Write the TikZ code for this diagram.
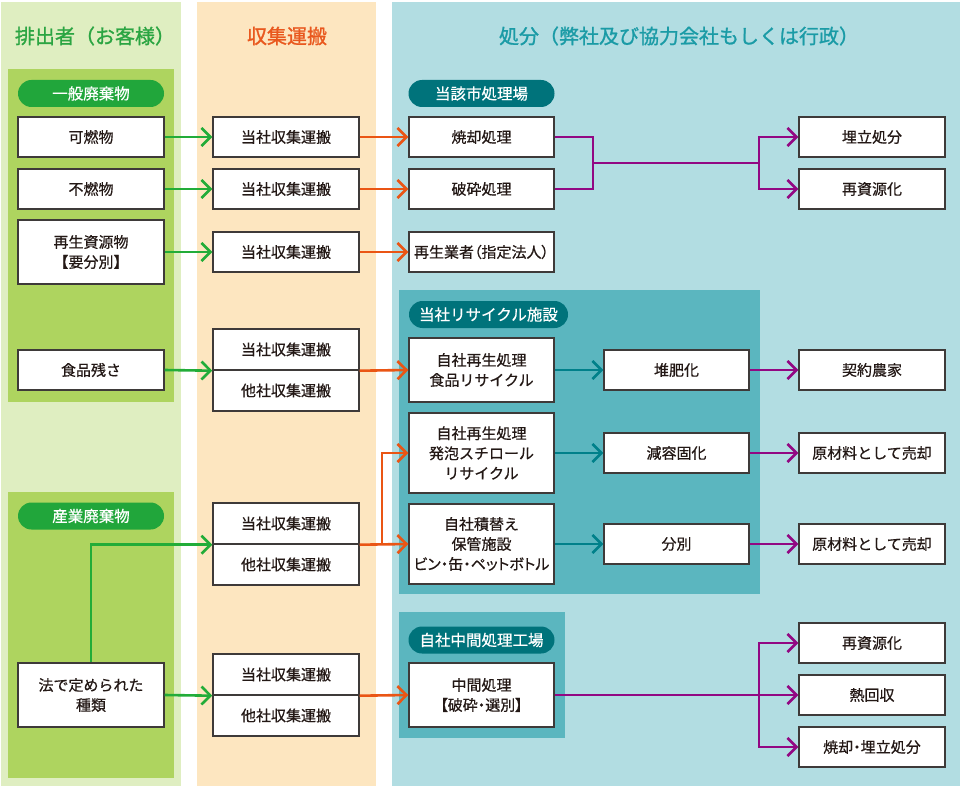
\documentclass[tikz,border=0pt]{standalone}
\usepackage{fontspec}
\setmainfont{Noto Sans CJK JP}[RawFeature={embolden=0.6}]
\newfontfamily\pfont{Noto Sans CJK JP}[RawFeature={+palt;embolden=0.6}]
\newfontfamily\tfont{Noto Sans CJK JP}[RawFeature={embolden=1.2}]
\usetikzlibrary{arrows.meta}
\definecolor{bggreen}{HTML}{DFEEC1}
\definecolor{bgorange}{HTML}{FDE6C0}
\definecolor{bgblue}{HTML}{B2DDE2}
\definecolor{ingreen}{HTML}{AED45F}
\definecolor{inteal}{HTML}{5BB6BF}
\definecolor{pillgreen}{HTML}{21A63B}
\definecolor{pillteal}{HTML}{00737B}
\definecolor{tgreen}{HTML}{2BA542}
\definecolor{torange}{HTML}{E9581E}
\definecolor{tteal}{HTML}{1A9BA6}
\definecolor{gline}{HTML}{22AC38}
\definecolor{oline}{HTML}{EA5514}
\definecolor{tline}{HTML}{00808A}
\definecolor{pline}{HTML}{920783}
\definecolor{boxline}{HTML}{3E3A39}
\definecolor{txt}{HTML}{231815}
\begin{document}
\begin{tikzpicture}[x=1pt,y=-1pt,
  box/.style={draw=boxline, line width=1.4pt, fill=white, minimum width=146pt,
    minimum height=40pt, inner sep=0pt, align=center, text=txt,
    font=\fontsize{15}{20}\selectfont},
  pill/.style={fill=#1, rounded corners=13.5pt, minimum width=146pt,
    minimum height=27pt, inner sep=0pt, text=white,
    font=\fontsize{15.5}{18}\selectfont},
  ttl/.style={text=#1, font=\tfont\fontsize{20}{24}\selectfont, inner sep=0pt},
  conn/.style={draw=#1, line width=2.6pt},
  arr/.style={conn=#1, -{Straight Barb[length=9pt,width=18pt]}}
]
\useasboundingbox (0,0) rectangle (960,786);
% column backgrounds
\fill[bggreen] (1,2) rectangle (181,786);
\fill[bgorange] (197,2) rectangle (376,786);
\fill[bgblue] (392,2) rectangle (960,786);
\fill[ingreen] (8,69) rectangle (174,402);
\fill[ingreen] (8,492) rectangle (174,778);
\fill[inteal] (399,290) rectangle (760,594);
\fill[inteal] (399,612) rectangle (565,738);
% titles
\node[ttl=tgreen] (t1) at (95,36) {排出者（お客様）};
\node[ttl=torange] (t2) at (287,36) {収集運搬};
\node[ttl=tteal] (t3) at (679,36) {処分（弊社及び協力会社もしくは行政）};
% pills
\node[pill=pillgreen] (p1) at (91,93.5) {一般廃棄物};
\node[pill=pillgreen] (p2) at (91,516) {産業廃棄物};
\node[pill=pillteal] (p3) at (481.5,93.5) {当該市処理場};
\node[pill=pillteal, minimum width=159pt] (p4) at (488.5,314.5) {当社リサイクル施設};
\node[pill=pillteal] (p5) at (481.5,640) {自社中間処理工場};
% column 1
\node[box] (a1) at (91,137) {可燃物};
\node[box] (a2) at (91,189) {不燃物};
\node[box, minimum height=64pt] (a3) at (91,252) {再生資源物\\【要分別】};
\node[box] (a4) at (91,370) {食品残さ};
\node[box, minimum height=64pt] (a5) at (91,695) {法で定められた\\種類};
% column 2
\node[box] (b1) at (286,137) {当社収集運搬};
\node[box] (b2) at (286,189) {当社収集運搬};
\node[box] (b3) at (286,252) {当社収集運搬};
\node[box, minimum height=41pt] (b4a) at (286,349.5) {当社収集運搬};
\node[box, minimum height=41pt] (b4b) at (286,390.5) {他社収集運搬};
\node[box, minimum height=41pt] (b5a) at (286,523.5) {当社収集運搬};
\node[box, minimum height=41pt] (b5b) at (286,564.5) {他社収集運搬};
\node[box, minimum height=41pt] (b6a) at (286,674.5) {当社収集運搬};
\node[box, minimum height=41pt] (b6b) at (286,715.5) {他社収集運搬};
% column 3
\node[box, minimum width=145pt] (c1) at (481.5,137) {焼却処理};
\node[box, minimum width=145pt] (c2) at (481.5,189) {破砕処理};
\node[box, minimum width=145pt] (c3) at (481.5,252) {{\pfont 再生業者（指定法人）}};
\node[box, minimum width=145pt, minimum height=64pt] (c4) at (481.5,370) {自社再生処理\\食品リサイクル};
\node[box, minimum width=145pt, minimum height=80pt] (c5) at (481.5,453) {自社再生処理\\発泡スチロール\\リサイクル};
\node[box, minimum width=145pt, minimum height=80pt] (c6) at (481.5,544) {自社積替え\\保管施設\\{\pfont ビン・缶・ペットボトル}};
\node[box, minimum width=145pt, minimum height=64pt] (c7) at (481.5,695) {中間処理\\{\pfont 【破砕・選別】}};
% column 4
\node[box, minimum width=145pt] (d1) at (676.5,370) {堆肥化};
\node[box, minimum width=145pt] (d2) at (676.5,453) {減容固化};
\node[box, minimum width=145pt] (d3) at (676.5,544) {分別};
% column 5
\node[box] (e1) at (872,137) {埋立処分};
\node[box] (e2) at (872,189) {再資源化};
\node[box] (e3) at (872,370) {契約農家};
\node[box] (e4) at (872,453) {原材料として売却};
\node[box] (e5) at (872,544) {原材料として売却};
\node[box] (e6) at (872,643) {再資源化};
\node[box] (e7) at (872,695) {熱回収};
\node[box] (e8) at (872,747) {{\pfont 焼却・埋立処分}};
% junction coordinates
\coordinate (j1) at (593,163);
\coordinate (j2) at (759,163);
\coordinate (j3) at (759,695);
\coordinate (j4) at (382,544);
% green connectors
\draw[arr=gline] (a1) -- (b1);
\draw[arr=gline] (a2) -- (b2);
\draw[arr=gline] (a3) -- (b3);
\draw[arr=gline] (a4.east) -- (b4a.south west);
\draw[arr=gline] (a5.east) -- (b6a.south west);
\draw[arr=gline] (a5.north) |- (b5a.south west);
% orange connectors
\draw[arr=oline] (b1) -- (c1);
\draw[arr=oline] (b2) -- (c2);
\draw[arr=oline] (b3) -- (c3);
\draw[arr=oline] (b4a.south east) -- (c4.west);
\draw[arr=oline] (b5a.south east) -- (c6.west);
\draw[arr=oline] (j4) |- (c5.west);
\draw[arr=oline] (b6a.south east) -- (c7.west);
% teal connectors
\draw[arr=tline] (c4) -- (d1);
\draw[arr=tline] (c5) -- (d2);
\draw[arr=tline] (c6) -- (d3);
% purple connectors
\draw[arr=pline] (d1) -- (e3);
\draw[arr=pline] (d2) -- (e4);
\draw[arr=pline] (d3) -- (e5);
\draw[conn=pline] (c1.east) -| (j1) |- (c2.east);
\draw[conn=pline] (j1) -- (j2);
\draw[arr=pline] (j2) |- (e1.west);
\draw[arr=pline] (j2) |- (e2.west);
\draw[arr=pline] (c7) -- (e7);
\draw[arr=pline] (j3) |- (e6.west);
\draw[arr=pline] (j3) |- (e8.west);
\end{tikzpicture}
\end{document}
